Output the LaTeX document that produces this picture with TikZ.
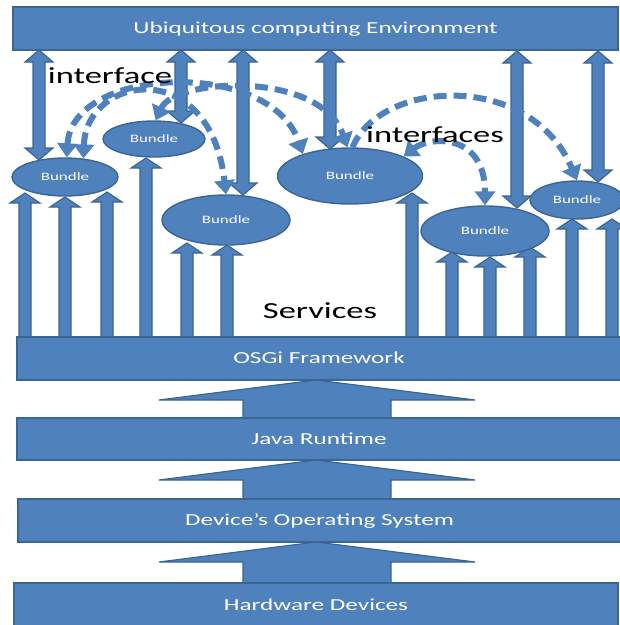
\documentclass[tikz,border=0pt]{standalone}
\usepackage{fontspec}
\setmainfont{Carlito}
\usepackage{graphicx}
\usetikzlibrary{shapes.geometric,arrows.meta}

\definecolor{boxblue}{HTML}{4F81BD}
\definecolor{edgeblue}{HTML}{3A6594}
\newcommand{\wide}[1]{\scalebox{1.5}[1]{#1}}

\begin{document}
\begin{tikzpicture}[x=1pt,y=-1pt,
  layer/.style={rectangle,fill=boxblue,draw=edgeblue,line width=1.4pt,inner sep=0pt,
    minimum height=43pt,text=white,text height=10.8pt,text depth=0pt,
    font=\fontsize{16.8}{18}\selectfont},
  bundle/.style={ellipse,fill=boxblue,draw=edgeblue,line width=1.4pt,inner sep=0pt,
    text=white,text height=7.2pt,text depth=0pt,font=\fontsize{11.3}{12}\selectfont},
  blk/.style={fill=boxblue,draw=edgeblue,line width=1.2pt},
  iface/.style={boxblue,line width=6pt,dash pattern=on 13pt off 7pt,
    >={Triangle[width=20pt,length=14pt]}},
  note/.style={text=black,anchor=base,font=\fontsize{23}{26}\selectfont}]
\useasboundingbox (0,0) rectangle (620,625);

% big arrows between the layers
\foreach \yt/\yb in {380/418, 460/499, 542/583}
    \draw[blk] (316,\yt) -- (475,\yt+20) -- (391,\yt+20) -- (391,\yb)
        -- (243,\yb) -- (243,\yt+20) -- (159,\yt+20) -- cycle;

% services: arrows up from the framework
\foreach \x/\t in {25/193, 65/197, 107/192, 146/158, 187/243, 227/245,
                   412/193, 452/252, 490/257, 530/247, 572/219, 612/219}
    \draw[blk] (\x-6,338) -- (\x-6,\t+10) -- (\x-15,\t+10) -- (\x,\t)
        -- (\x+15,\t+10) -- (\x+6,\t+10) -- (\x+6,338) -- cycle;

% links to the environment
\foreach \x/\a/\b in {39/50/160, 181/50/123, 243/50/195, 330/50/149, 517/51/208, 598/51/182}
    \draw[blk] (\x,\a) -- (\x+14,\a+12) -- (\x+6,\a+12) -- (\x+6,\b-12) -- (\x+14,\b-12)
        -- (\x,\b) -- (\x-14,\b-12) -- (\x-6,\b-12) -- (\x-6,\a+12) -- (\x-14,\a+12) -- cycle;

% layers
\node[layer,minimum width=605pt] (ubi)  at (315.5,28.5) {\wide{Ubiquitous computing Environment}};
\node[layer,minimum width=604pt] (osgi) at (319,358.5)  {\wide{OSGi Framework}};
\node[layer,minimum width=604pt,minimum height=42pt] (java) at (319,439) {\wide{Java Runtime}};
\node[layer,minimum width=603pt] (dev)  at (319.5,520.5) {\wide{Device’s Operating System}};
\node[layer,minimum width=604pt,minimum height=45pt] (hw) at (316,605.5) {\wide{Hardware Devices}};

% bundles
\node[bundle,minimum width=106pt,minimum height=38pt] (b1) at (65,177)  {\wide{Bundle}};
\node[bundle,minimum width=102pt,minimum height=36pt] (b2) at (154,139) {\wide{Bundle}};
\node[bundle,minimum width=128pt,minimum height=50pt] (b3) at (226,220) {\wide{Bundle}};
\node[bundle,minimum width=145pt,minimum height=56pt] (b4) at (350,176) {\wide{Bundle}};
\node[bundle,minimum width=128pt,minimum height=50pt] (b5) at (485,231) {\wide{Bundle}};
\node[bundle,minimum width=94pt,minimum height=38pt]  (b6) at (577,200) {\wide{Bundle}};

% interfaces between bundles
\draw[iface,<->] (b1.85) .. controls (72,66) and (270,58) .. (b4.155);
\draw[iface,<->] (b1.45) .. controls (86,75) and (210,55) .. (b3.north);
\draw[iface,<->] (b2.85) .. controls (175,78) and (320,70) .. (b4.95);
\draw[iface,->]  (b4.85) .. controls (380,80) and (530,70) .. (b6.north);
\draw[iface,<->] (b4.20) .. controls (430,136) and (485,133) .. (b5.north);

\node[note] (t1) at (110,83)  {\wide{interface}};
\node[note] (t2) at (435,142) {\wide{interfaces}};
\node[note] (t3) at (320,318) {\wide{Services}};
\end{tikzpicture}
\end{document}
